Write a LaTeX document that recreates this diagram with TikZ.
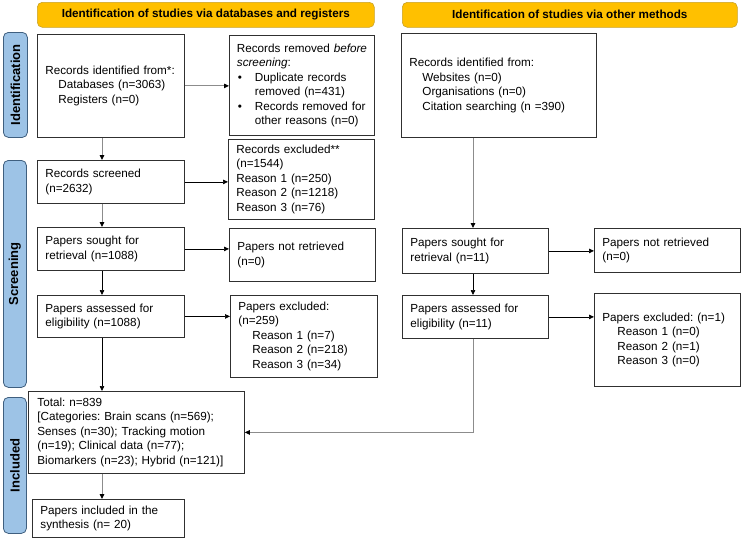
\documentclass[tikz,border=0pt]{standalone}
\usepackage{fontspec}
\setmainfont{Liberation Sans}
\usetikzlibrary{arrows.meta}
\definecolor{hdrfill}{HTML}{FFC000}
\definecolor{hdrdraw}{HTML}{C9A227}
\definecolor{barfill}{HTML}{9DC3E6}
\definecolor{bardraw}{HTML}{3F5F7F}
\definecolor{lgray}{HTML}{8C8C8C}
\definecolor{boxdraw}{HTML}{303030}
\tikzset{
  box/.style={draw=boxdraw, line width=0.8pt, anchor=north west, align=left,
    inner xsep=8pt, inner ysep=2pt, font=\fontsize{11.7}{14.5}\selectfont,
    execute at begin node={\frenchspacing\hyphenpenalty=10000\exhyphenpenalty=10000}},
  hdr/.style={draw=hdrdraw, fill=hdrfill, rounded corners=5pt, line width=0.6pt,
    anchor=north west, font=\fontsize{11.7}{13}\selectfont\bfseries, inner sep=0pt},
  sidebar/.style={draw=bardraw, fill=barfill, rounded corners=5pt, line width=0.8pt,
    anchor=north west, inner sep=0pt},
  sidelabel/.style={rotate=90, font=\fontsize{13}{15}\selectfont\bfseries},
  arr/.style={draw=black, line width=0.7pt, -{Triangle[length=5pt,width=4.5pt]}},
  garr/.style={draw=lgray, line width=0.9pt, -{Triangle[length=5pt,width=4.5pt,fill=black,color=black]}}
}
\begin{document}
\begin{tikzpicture}[x=1pt,y=-1pt]
\useasboundingbox (0,0) rectangle (742,539);
% headers
\node[hdr, minimum width=337pt, minimum height=25pt] (h1) at (37,2) {Identification of studies via databases and registers};
\node[hdr, minimum width=335pt, minimum height=25pt] (h2) at (402,2) {Identification of studies via other methods};
% side bars
\node[sidebar, minimum width=24pt, minimum height=105pt] (s1) at (3,32) {};
\node[sidelabel] (s1l) at (s1.center) {Identification};
\node[sidebar, minimum width=23pt, minimum height=227pt] (s2) at (3,160) {};
\node[sidelabel] (s2l) at (s2.center) {Screening};
\node[sidebar, minimum width=23pt, minimum height=136pt] (s3) at (3,397) {};
\node[sidelabel] (s3l) at (s3.center) {Included};
% identification
\node[box, text width=131pt, minimum height=103pt] (recid) at (37,34)
  {Records identified from*:\\\hspace*{13pt}Databases (n=3063)\\\hspace*{13pt}Registers (n=0)};
\node[box, text width=130pt, minimum height=100pt, inner xsep=7.5pt] (removed) at (229,35)
  {\mbox{Records removed \textit{before}}\\\textit{screening}:\\
   \makebox[18pt][l]{\hspace*{1pt}\textbullet}Duplicate records\\
   \hspace*{18pt}removed (n=431)\\
   \makebox[18pt][l]{\hspace*{1pt}\textbullet}Records removed for\\
   \hspace*{18pt}other reasons (n=0)};
\node[box, text width=179pt, minimum height=104pt] (other) at (401,33)
  {Records identified from:\\\hspace*{13pt}Websites (n=0)\\\hspace*{13pt}Organisations (n=0)\\\hspace*{13pt}Citation searching (n =390)};
% screening, left
\node[box, text width=131pt, minimum height=43pt] (screened) at (37,160)
  {Records screened\\(n=2632)};
\node[box, text width=130pt, minimum height=80pt] (excluded) at (228,139)
  {Records excluded**\\(n=1544)\\Reason 1 (n=250)\\Reason 2 (n=1218)\\Reason 3 (n=76)};
\node[box, text width=131pt, minimum height=43pt] (sought) at (37,227)
  {Papers sought for\\retrieval (n=1088)};
\node[box, text width=130pt, minimum height=53pt] (notret) at (229,228)
  {Papers not retrieved\\(n=0)};
\node[box, text width=131pt, minimum height=42pt] (assessed) at (37,295)
  {Papers assessed for\\eligibility (n=1088)};
\node[box, text width=131pt, minimum height=82pt] (pexcl) at (230,295)
  {Papers excluded:\\(n=259)\\\hspace*{14pt}Reason 1 (n=7)\\\hspace*{14pt}Reason 2 (n=218)\\\hspace*{14pt}Reason 3 (n=34)};
% screening, right
\node[box, text width=130pt, minimum height=45pt] (rsought) at (402,228)
  {Papers sought for\\retrieval (n=11)};
\node[box, text width=130pt, minimum height=44pt] (rnotret) at (594,228)
  {Papers not retrieved\\(n=0)};
\node[box, text width=130pt, minimum height=43pt] (rassessed) at (402,295)
  {Papers assessed for\\eligibility (n=11)};
\node[box, text width=130pt, minimum height=93pt] (rexcl) at (594,293)
  {Papers excluded: (n=1)\\\hspace*{15pt}Reason 1 (n=0)\\\hspace*{15pt}Reason 2 (n=1)\\\hspace*{15pt}Reason 3 (n=0)};
% included
\node[box, text width=198pt, minimum height=82pt, inner xsep=9pt] (total) at (28,391)
  {Total: n=839\\{}[Categories: Brain scans (n=569);\\Senses (n=30); Tracking motion\\(n=19); Clinical data (n=77);\\Biomarkers (n=23); Hybrid (n=121)]};
\node[box, text width=136pt, minimum height=38pt] (incl) at (32,499)
  {Papers included in the\\synthesis (n= 20)};
% column coordinates
\coordinate (c1) at (102,0);
\coordinate (c2) at (473,0);
% connectors
\draw[garr] (recid.east) -- (removed.west |- recid.east);
\draw[garr] (recid.south -| c1) -- (screened.north -| c1);
\draw[arr] (screened.east) -- (excluded.west |- screened.east);
\draw[garr] (screened.south -| c1) -- (sought.north -| c1);
\draw[arr] (sought.east) -- (notret.west |- sought.east);
\draw[arr] (sought.south -| c1) -- (assessed.north -| c1);
\draw[arr] (assessed.east) -- (pexcl.west |- assessed.east);
\draw[arr] (assessed.south -| c1) -- (total.north -| c1);
\draw[garr] (total.south -| c1) -- (incl.north -| c1);
\draw[garr] (other.south -| c2) -- (rsought.north -| c2);
\draw[arr] (rsought.east) -- (rnotret.west |- rsought.east);
\draw[arr] (rsought.south -| c2) -- (rassessed.north -| c2);
\draw[arr] (rassessed.east) -- (rexcl.west |- rassessed.east);
\draw[garr] (rassessed.south -| c2) |- (total.east);
\end{tikzpicture}
\end{document}
